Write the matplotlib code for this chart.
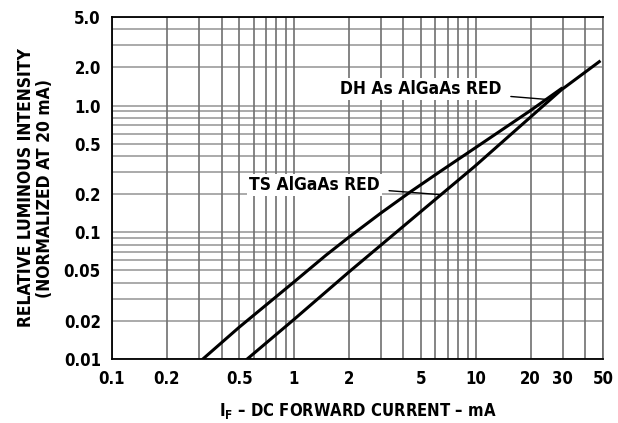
import matplotlib
matplotlib.use("Agg")
import matplotlib.pyplot as plt
from matplotlib.ticker import FixedLocator, NullFormatter

plt.rcParams['font.family'] = ['DejaVu Sans']
plt.rcParams['font.stretch'] = 'condensed'
plt.rcParams['font.weight'] = 'bold'
plt.rcParams['mathtext.fontset'] = 'custom'
plt.rcParams['mathtext.rm'] = 'DejaVu Sans:bold'

# curves
dh_current = [0.316, 0.5, 1.0, 1.5, 2.0, 3.0, 4.4, 6.5, 10.0, 20.0, 29.5]
dh_intensity = [0.01, 0.0178, 0.0405, 0.0659, 0.0912, 0.1415, 0.21, 0.308, 0.467, 0.915, 1.36]
ts_current = [0.554, 1.0, 2.02, 5.11, 9.83, 29.5, 47.7]
ts_intensity = [0.01, 0.0205, 0.049, 0.150, 0.33, 1.33, 2.22]

xticks = [0.1, 0.2, 0.5, 1, 2, 5, 10, 20, 30, 50]
xtick_labels = ["0.1", "0.2", "0.5", "1", "2", "5", "10", "20", "30", "50"]
yticks = [0.01, 0.02, 0.05, 0.1, 0.2, 0.5, 1.0, 2.0, 5.0]
ytick_labels = ["0.01", "0.02", "0.05", "0.1", "0.2", "0.5", "1.0", "2.0", "5.0"]

fig = plt.figure(figsize=(6.18, 4.23), dpi=100)
ax = fig.add_axes([0.1812, 0.1513, 0.7945, 0.8085])
ax.set_xscale('log')
ax.set_yscale('log')
ax.set_xlim(0.1, 50)
ax.set_ylim(0.01, 5.0)

# grid: every 1..9 step per decade
xgrid = [m * 10.0 ** e for e in (-1, 0, 1) for m in range(1, 10) if m * 10.0 ** e <= 50]
ygrid = [m * 10.0 ** e for e in (-2, -1, 0) for m in range(1, 10) if m * 10.0 ** e <= 5]
for yv in ygrid:
    ax.axhline(yv, color='#aaaaaa', lw=1.4, zorder=1)
for xv in xgrid:
    ax.axvline(xv, color='#707070', lw=1.2, zorder=1.5)

ax.plot(dh_current, dh_intensity, color='black', lw=2.2, zorder=3)
ax.plot(ts_current, ts_intensity, color='black', lw=2.2, zorder=3)

ax.xaxis.set_major_locator(FixedLocator(xticks))
ax.set_xticklabels(xtick_labels)
ax.xaxis.set_minor_formatter(NullFormatter())
ax.yaxis.set_major_locator(FixedLocator(yticks))
ax.set_yticklabels(ytick_labels)
ax.yaxis.set_minor_formatter(NullFormatter())
ax.tick_params(which='both', length=0, labelsize=12, pad=8)
for lab in ax.get_xticklabels() + ax.get_yticklabels():
    lab.set_fontweight('bold')

for side in ('left', 'bottom', 'top'):
    ax.spines[side].set_color('black')
    ax.spines[side].set_linewidth(1.3)
ax.spines['right'].set_color('#707070')
ax.spines['right'].set_linewidth(1.2)

ax.set_xlabel(r"I$_{\rm F}$ – DC FORWARD CURRENT – mA", fontsize=12,
              fontweight='bold', labelpad=9)
ax.set_ylabel("RELATIVE LUMINOUS INTENSITY\n(NORMALIZED AT 20 mA)",
              fontsize=12.5, fontweight='bold', labelpad=7, linespacing=1.1)

# curve labels with leader lines
bbox = dict(facecolor='white', edgecolor='none', pad=1.5)
ax.annotate("DH As AlGaAs RED", xy=(24.2, 1.12), xytext=(0.794, 0.789),
            textcoords='axes fraction', ha='right', va='center',
            fontsize=12.5, fontweight='bold', bbox=bbox, zorder=4,
            arrowprops=dict(arrowstyle='-', color='black', lw=1.0,
                            shrinkA=5, shrinkB=0))
ax.annotate("TS AlGaAs RED", xy=(6.42, 0.198), xytext=(0.546, 0.509),
            textcoords='axes fraction', ha='right', va='center',
            fontsize=12.5, fontweight='bold', bbox=bbox, zorder=4,
            arrowprops=dict(arrowstyle='-', color='black', lw=1.0,
                            shrinkA=5, shrinkB=0))

fig.savefig("out.png", dpi=100)
